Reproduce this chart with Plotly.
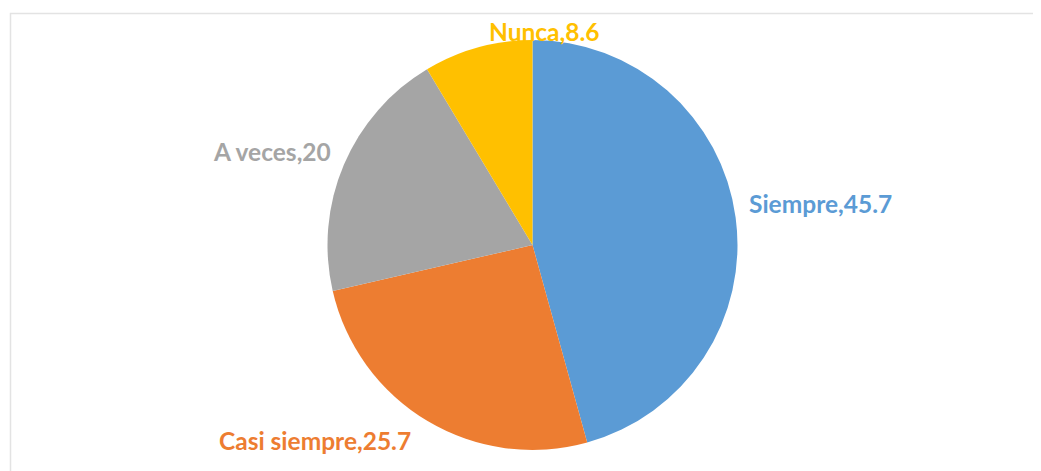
"""Gráfico circular de frecuencias"""

import plotly.graph_objects as go

# Datos
categorias = ["Siempre", "Casi siempre", "A veces", "Nunca"]
valores = [45.7, 25.7, 20, 8.6]
colores = ["#5B9BD5", "#ED7D31", "#A5A5A5", "#FFC000"]

# Posición de las etiquetas (px, como en el original)
etiquetas_x = [820, 315, 272, 545]
etiquetas_y = [203, 440, 152, 32]

ANCHO = 1041
ALTO = 471
DESPLAZ = 8  # margen del <body> en la página


def px_x(x):
    return (x - DESPLAZ) / ANCHO


def px_y(y):
    return 1 - (y - DESPLAZ) / ALTO


def crear_grafico() -> go.Figure:
    """
    Crea el gráfico circular

    Returns:
        Figura de Plotly
    """
    # Centro y radio del círculo en px
    cx, cy, r = 532.5, 245, 205

    fig = go.Figure()

    fig.add_trace(go.Pie(
        labels=categorias,
        values=valores,
        marker=dict(colors=colores, line=dict(width=0)),
        sort=False,
        direction='clockwise',
        rotation=0,
        textinfo='none',
        hoverinfo='label+value',
        showlegend=False,
        domain=dict(
            x=[px_x(cx - r), px_x(cx + r)],
            y=[px_y(cy + r), px_y(cy - r)],
        ),
    ))

    # Etiquetas "categoría,valor"
    for cat, val, col, x, y in zip(categorias, valores, colores, etiquetas_x, etiquetas_y):
        fig.add_annotation(
            x=px_x(x),
            y=px_y(y),
            xref='paper',
            yref='paper',
            text=f"<b>{cat},{val:g}</b>",
            showarrow=False,
            font=dict(family="Lato, 'Open Sans', sans-serif", size=24.5, color=col),
            xanchor='center',
            yanchor='middle',
        )

    # Marco del área del gráfico (solo borde superior e izquierdo visibles)
    fig.add_shape(
        type='path',
        xref='paper',
        yref='paper',
        path=f"M {px_x(10.5)},-0.05 L {px_x(10.5)},{px_y(13.5)} L 1.2,{px_y(13.5)}",
        line=dict(color='#E3E3E3', width=1.5),
    )

    fig.update_layout(
        width=ANCHO,
        height=ALTO,
        margin=dict(l=0, r=0, t=0, b=0),
        paper_bgcolor='white',
        plot_bgcolor='white',
    )

    return fig


fig = crear_grafico()
fig.write_html("out.html")
